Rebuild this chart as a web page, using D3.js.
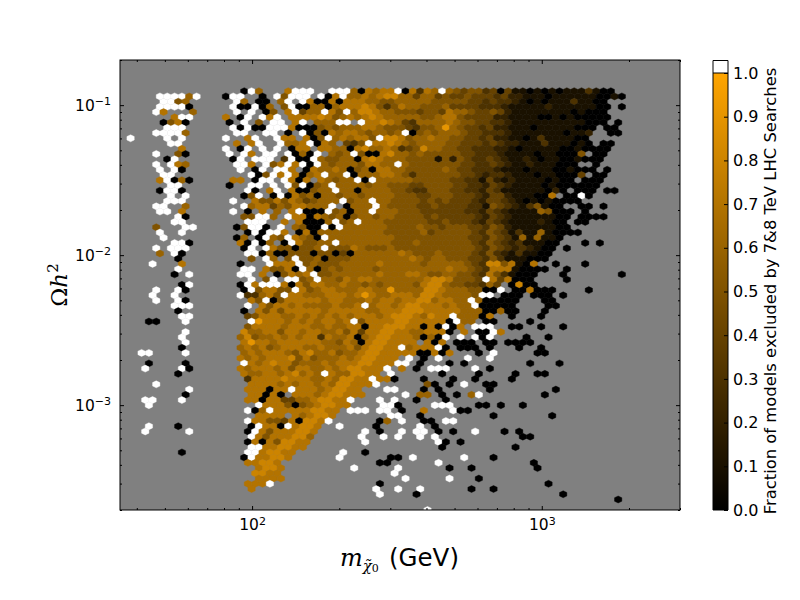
<!DOCTYPE html>
<html>
<head>
<meta charset="utf-8">
<script src="https://cdnjs.cloudflare.com/ajax/libs/d3/7.8.5/d3.min.js"></script>
<style>
body { margin: 0; background: #fff; }
text { font-family: "DejaVu Sans", sans-serif; fill: #000; }
.domain { display: none; }
</style>
</head>
<body>
<div id="chart"></div>
<script>
// hexbin grid in log10 space, one string per hex row, top row first
// '.' empty, digit = fraction in tenths, 'w' = above the colour scale
const logMassStart = 1.5806, logMassStep = 0.02531
const logOmegaStart = -0.9067, logOmegaStep = -0.0349
const blockStarts = [0, 13, 25, 37, 49]

const hexRows = [
"............. ..0w6...7www ..www607677w 07376w654553 40411010101113100..",
"....wwww6w... 0ww..0.w5www .w07w6676788 664664544544 4342211101111110010",
"....ww56..... .w6.00.6w.w7 007077766556 666655555443 4332101011131100...",
"....wwww0.... .w00w06.5w00 660677787535 766555644443 33211111211111100.0",
"...w7...6.... .w.w.05.7w46 6w75w6887665 554554766544 5421111111101000...",
"......7ww.... 7.0w.w7w.777 787567678766 666556775444 42211110010100000..",
"....0570..... 0.w.5.ww.7w. 666ww.w77876 436666765544 3321111111111000.0.",
".....www..... .w0w00www700 056566677655 543556965443 422111011111000.00.",
"...wwww6..... .ww..ww.0.w0 507677656656 w05656665443 33211111110112..00.",
"w....w.w..... w..7w..w77.7 05w676775w88 756676655443 42211013111100.....",
".....ww...... .7.7w..w667w 076.435w7787 656666554443 43221113111010.00..",
".......7..... w.0w.w.w.077 .77660786676 345866554433 32210111110010000..",
"...w..50..... w.w7.ww.w060 w.656w500786 656555554433 3211110110005.00...",
".....0w...... .0w.www.3w00 w65566078766 655551525433 4321121011001000...",
"...w.w76..... .ww7.w57w7w0 w6566657766w 655555554433 432112111000..0....",
"....w.w0..... ..w.0w.ww7.0 766760560776 655555654433 321110111001000.0..",
"....ww....... ...w05w7w706 7w66w0666776 535555554432 3321110110004.00...",
"....7w060.... .77.0ww.w707 .76566w0w666 665555544331 421211110100.000...",
".....ww...... 0..ww.w.w5w0 56w666656655 544555544332 432111101000000....",
"....0ww0..... ...w0.7w.700 566w66066665 543355544332 43111111020.000.00.",
".....w.w..... ..05w.0w0756 066566566665 554455544432 442111007.00w0.....",
".....www..... .w..75575764 5666w566w665 555454544432 4432101010000......",
"...ww..6..... ..w677465776 66w.0666w655 554454444331 5432135100..00.0...",
"....ww.7..... .w.0.7.6.7w0 00w56066w666 555444444332 432111165000.0.....",
"......w0..... ..55ww6.w770 765605665665 555454444432 43211111100.0000...",
"......ww..... ...www..7.70 006w56w66655 555544544432 43211112100.00.....",
"...5...ww.... .05ww0.w.650 0w0w66666655 556554555443 54211111100........",
"....w..w..... ...0w0ww7.07 066666666655 555645555543 5431311610000......",
"....w........ .06.0w65w765 0w6666666665 555555555443 5431616110.........",
"......ww0.... ..70w06.0w75 566w66666665 556555555543 5432311100...0.0...",
"...w.www..... ..0w.w755055 6w5557655565 555555555543 543232100.0........",
"....6.w0..... ...ww0600555 055040666666 765556555543 532131100..........",
"......0...... ...5.w6.5w55 605556666666 676566555443 53111000...........",
"...w...7..... ..0...w777w5 655566666766 666566666543 8857107..0...0.....",
"......w...... ..ww.75570w6 056566665666 666666766543 77710000..0........",
"......0.w.... ..ww.7.05767 w55666666766 677655665543 7531000...0.......0",
"............. ...w.5w.ww56 w66576776666 66678875554w 747000....0........",
".......0w.... ..0w7www7075 776676656566 665788655443 64.0800............",
"...w..w0..... ..0w57755w75 677666776696 666887666550 0w.007000....0.....",
"...w..w...... ..w33675w776 667776797667 77688766665w w.000.000.0........",
"...w..w0..... ...75w057777 767766676776 778867766w60 0000...00..........",
"......www.... ...w.7577676 6667667w6776 7887776766w0 0000....00.........",
"......0...... ..0.75757777 767777766777 888777776660 0600...0...........",
".......ww.... ...457776676 767676777678 8876877w6660 7..0...0...........",
"..00...w..... ...w97776767 67767w577778 8777770w66.0 0....0.............",
"............. ...577776777 667667707788 877070w07.ww w..00..0..0........",
".......w..... ..8667757767 766757477887 7667770.7.00 w7.................",
".......w..... ..6856676767 737667067887 776060w.w.w0 w....0..0..........",
".......w..... ..7977677777 766576078877 77.707.000.0 0.0000.............",
".......0..... ..6767567776 676667578877 w6777w0.000. 0...0..0...........",
".ww....w..... ..6767776578 667566788777 7700707...0. w.....00...........",
"............. ..7676777857 566676788777 .w.0.w...w.. w..................",
"..0....0..... ..w767877566 67677788777w w.0...0.0... .....0...0.........",
"..w....w0.... ..7677767577 6676788777w. 7.0.www...w. 0..................",
"......0...... ..7667767867 6w7668877.w. .....0....0. ...0..00...........",
"............. ...377778777 66768877w770 ...0...0..0. ...0...............",
"...w......... ...777767677 67688777w... ...50.0.w..0 0..................",
"........w.... ...777077w77 7678877...ww ...0.0...... 0........0.........",
".......0..... ...77070.777 6788777..... w.66.0.0.6w. .......0...........",
"..ww...w..... ...770774466 78877w...w.w ..0...0.....",
"..w.......... ....w7775056 78877....ww0 ....www...00 .0..0..............",
"............. ...w06w77777 8877.www.ww. 0..7...w00..",
"............. ....7777.767 887.......ww ..0......... 0.......0..........",
"............. ...w77554708 87w......06. w..00.ww....",
"..w...0...... ...0w770w788 7..w....0... ..w.0.......",
"..w.....w.... ...0w7577788 7......w.0.. w.ww.0.0..w. ..0.0..............",
"............. ...w75777886 ......w..w.w ..w.w....... ....00.............",
"............. ...070758877 .......w.... .....w0.0...",
"............. ...ww778877. ............ .....0...... ...0...............",
".......0..... ...ww78877.. ....w..0....",
"............. ..0w77887... ...w......00 .w......w... 0..................",
"............. ...77887.... .........00. .....w...... ......0............",
"............. ....7887.... .....w.....w ......0..0.. ......0............",
"............. ....8877.... ...........w",
"............. ....7777.... ............ w.....w...0.",
"............. ...777w..... .........0.. ............ ........0..........",
"............. ...7........ ........w..w ..w......0.. 0..................",
"............. ............ .........w.. ..0......... ..........0........",
"............. ............ ............ ............ .................0.",
"",
"............. ............ ............ ...w........"
]

const xMajorTicks = [100, 1000]
const xMinorTicks = [40, 50, 60, 70, 80, 90, 200, 300, 400, 500, 600, 700, 800, 900, 2000, 3000]
const yMajorTicks = [0.1, 0.01, 0.001]
const yMinorTicks = [0.2, 0.09, 0.08, 0.07, 0.06, 0.05, 0.04, 0.03, 0.02,
    0.009, 0.008, 0.007, 0.006, 0.005, 0.004, 0.003, 0.002,
    0.0009, 0.0008, 0.0007, 0.0006, 0.0005, 0.0004, 0.0003, 0.0002]
const colorbarTicks = [0, 0.1, 0.2, 0.3, 0.4, 0.5, 0.6, 0.7, 0.8, 0.9, 1]
const xDomain = [35, 3000]
const yDomain = [0.0002, 0.2]

const margin = { top: 60, right: 120, bottom: 90, left: 120 }
const width = 800 - margin.left - margin.right
const height = 600 - margin.top - margin.bottom

const svg = d3.select("#chart")
    .append("svg")
    .attr("width", 800)
    .attr("height", 600)

const plot = svg.append("g")
    .attr("transform", `translate(${margin.left}, ${margin.top})`)

const xScale = d3.scaleLog().domain(xDomain).range([0, width])
const yScale = d3.scaleLog().domain(yDomain).range([height, 0])
const colorScale = d3.scaleLinear().domain([0, 1]).range(["#000000", "#ffa500"])

svg.append("clipPath").attr("id", "plot-clip")
    .append("rect").attr("width", width).attr("height", height)

plot.append("rect")
    .attr("width", width)
    .attr("height", height)
    .attr("fill", "#808080")

// unpack the row strings into cells
const cells = []
hexRows.forEach((row, k) => {
    row.split(" ").forEach((block, b) => {
        block.split("").forEach((ch, i) => {
            if (ch === ".") return
            const col = blockStarts[b] + i
            const offset = k % 2 === 0 ? 0.5 : 0
            cells.push({
                mass: Math.pow(10, logMassStart + (col + offset) * logMassStep),
                omega: Math.pow(10, logOmegaStart + k * logOmegaStep),
                value: ch === "w" ? null : +ch / 10
            })
        })
    })
})

const hexW = xScale(Math.pow(10, 2 + logMassStep)) - xScale(100)
const hexR = (yScale(Math.pow(10, -1 + logOmegaStep)) - yScale(0.1)) / 1.5
const hexPath = `M0,${-hexR}L${hexW / 2},${-hexR / 2}L${hexW / 2},${hexR / 2}L0,${hexR}L${-hexW / 2},${hexR / 2}L${-hexW / 2},${-hexR / 2}Z`

plot.append("g")
    .attr("clip-path", "url(#plot-clip)")
    .selectAll("path")
    .data(cells)
    .join("path")
    .attr("d", hexPath)
    .attr("transform", d => `translate(${xScale(d.mass)}, ${yScale(d.omega)})`)
    .attr("fill", d => d.value === null ? "#ffffff" : colorScale(d.value))
    .attr("stroke", d => d.value === null ? "#ffffff" : colorScale(d.value))
    .attr("stroke-width", 0.4)

plot.append("rect")
    .attr("width", width)
    .attr("height", height)
    .attr("fill", "none")
    .attr("stroke", "#000")

function drawAxis(axisFn, scale, values, size, translate, showLabels) {
    const g = plot.append("g")
        .attr("transform", translate)
        .call(axisFn(scale).tickValues(values).tickSize(-size).tickPadding(9)
            .tickFormat(showLabels ? () => "10" : () => ""))
    g.selectAll("line").attr("stroke", "#000")
    g.selectAll("text").style("font-size", "15.5px")
    return g
}

function addExponent(g) {
    g.selectAll(".tick text").append("tspan")
        .attr("dy", "-0.5em")
        .style("font-size", "11px")
        .text(d => String(Math.round(Math.log10(d))).replace("-", "\u2212"))
}

const xLabels = drawAxis(d3.axisBottom, xScale, xMajorTicks, 4, `translate(0, ${height})`, true)
addExponent(xLabels)
drawAxis(d3.axisTop, xScale, xMajorTicks, 4, "translate(0, 0)", false)
drawAxis(d3.axisBottom, xScale, xMinorTicks, 2, `translate(0, ${height})`, false)
drawAxis(d3.axisTop, xScale, xMinorTicks, 2, "translate(0, 0)", false)

const yLabels = drawAxis(d3.axisLeft, yScale, yMajorTicks, 4, "translate(0, 0)", true)
addExponent(yLabels)
drawAxis(d3.axisRight, yScale, yMajorTicks, 4, `translate(${width}, 0)`, false)
drawAxis(d3.axisLeft, yScale, yMinorTicks, 2, "translate(0, 0)", false)
drawAxis(d3.axisRight, yScale, yMinorTicks, 2, `translate(${width}, 0)`, false)

// axis titles
const xTitle = svg.append("text")
    .attr("x", 340)
    .attr("y", 566)
xTitle.append("tspan")
    .style("font-family", "'DejaVu Serif', serif")
    .style("font-style", "italic")
    .style("font-size", "24px")
    .text("m")
xTitle.append("tspan")
    .attr("dy", 5)
    .style("font-family", "'DejaVu Serif', serif")
    .style("font-style", "italic")
    .style("font-size", "15px")
    .text("\u03C7\u0303")
xTitle.append("tspan")
    .attr("dy", 1)
    .style("font-family", "'DejaVu Serif', serif")
    .style("font-size", "11px")
    .text("0")
svg.append("text")
    .attr("x", 389)
    .attr("y", 566)
    .style("font-size", "24.5px")
    .text("(GeV)")

const yTitle = svg.append("text")
    .attr("transform", "translate(67, 285) rotate(-90)")
    .attr("text-anchor", "middle")
    .style("font-family", "'DejaVu Serif', serif")
    .style("font-size", "23px")
yTitle.append("tspan").text("\u03A9")
yTitle.append("tspan").style("font-style", "italic").text("h")
yTitle.append("tspan").attr("dy", -9).style("font-size", "15px").text("2")

// colorbar
const bar = svg.append("g").attr("transform", "translate(713, 73)")
const barWidth = 15
const barHeight = 437
const barScale = d3.scaleLinear().domain([0, 1]).range([barHeight, 0])

const gradient = svg.append("defs").append("linearGradient")
    .attr("id", "bar-gradient")
    .attr("x1", 0).attr("y1", 1).attr("x2", 0).attr("y2", 0)
gradient.append("stop").attr("offset", "0%").attr("stop-color", colorScale(0))
gradient.append("stop").attr("offset", "100%").attr("stop-color", colorScale(1))

bar.append("rect")
    .attr("width", barWidth)
    .attr("height", barHeight)
    .attr("fill", "url(#bar-gradient)")
bar.append("rect")
    .attr("y", -12.5)
    .attr("width", barWidth)
    .attr("height", 12.5)
    .attr("fill", "#fff")
bar.append("path")
    .attr("d", `M0,0H${barWidth}M0,${barHeight}V-12.5H${barWidth}V${barHeight}Z`)
    .attr("fill", "none")
    .attr("stroke", "#000")

const barAxis = bar.append("g")
    .attr("transform", `translate(${barWidth}, 0)`)
    .call(d3.axisRight(barScale).tickValues(colorbarTicks).tickSize(-4).tickPadding(5).tickFormat(d3.format(".1f")))
barAxis.selectAll("line").attr("stroke", "#000")
barAxis.selectAll("text").style("font-size", "16px")

svg.append("text")
    .attr("transform", "translate(776, 291) rotate(-90)")
    .attr("text-anchor", "middle")
    .style("font-size", "16.4px")
    .text("Fraction of models excluded by 7&8 TeV LHC Searches")
</script>
</body>
</html>
